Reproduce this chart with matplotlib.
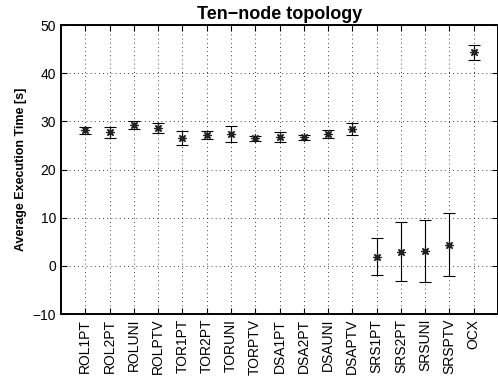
import matplotlib
matplotlib.use("Agg")
import matplotlib.pyplot as plt
import numpy as np

plt.rcParams['font.family'] = ['Liberation Sans', 'DejaVu Sans']

labels = ["ROL1PT", "ROL2PT", "ROLUNI", "ROLPTV", "TOR1PT", "TOR2PT", "TORUNI",
          "TORPTV", "DSA1PT", "DSA2PT", "DSAUNI", "DSAPTV", "SRS1PT", "SRS2PT",
          "SRSUNI", "SRSPTV", "OCX"]
means = [28.1, 27.7, 29.2, 28.6, 26.5, 27.2, 27.4, 26.5, 26.8, 26.7, 27.3, 28.4,
         1.9, 2.9, 3.0, 4.4, 44.3]
errs = [0.7, 1.2, 0.8, 1.0, 1.4, 0.8, 1.6, 0.5, 1.0, 0.5, 0.8, 1.2,
        3.85, 6.15, 6.45, 6.5, 1.5]

fig = plt.figure(figsize=(4.98, 3.87), dpi=100)
ax = fig.add_axes([61 / 498, 73 / 387, 437 / 498, 289 / 387])

x = np.arange(1, len(labels) + 1)
ax.errorbar(x, means, yerr=errs, fmt='none', ecolor='black', elinewidth=0.8,
            capsize=4, capthick=0.8)
ax.plot(x, means, linestyle='none', marker=(8, 2, 0), markersize=6,
        color='#222222', markeredgewidth=0.9)

ax.set_xlim(0, len(labels) + 1)
ax.set_ylim(-10, 50)
ax.set_xticks(x)
ax.set_xticklabels(labels, rotation=90, fontsize=10)
ax.set_yticks(np.arange(-10, 51, 10))
ax.tick_params(axis='y', labelsize=10)
ax.tick_params(direction='in', top=True, right=True, length=4, width=0.8)
ax.grid(True, linestyle=(0, (1, 4)), color='black', linewidth=0.6)
for s in ax.spines.values():
    s.set_linewidth(1.4)

ax.set_ylabel("Average Execution Time [s]", fontsize=9, fontweight='bold')
ax.set_title("Ten\u2212node topology", fontsize=13, fontweight='bold', pad=4)

fig.savefig("out.png", dpi=100)
